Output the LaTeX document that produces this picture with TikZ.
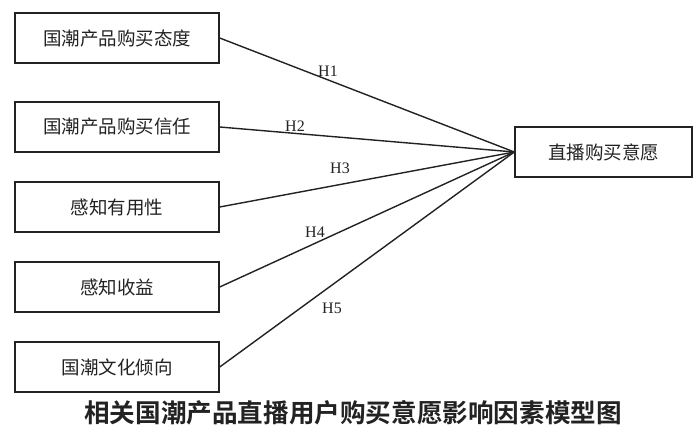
\documentclass[tikz,border=0pt]{standalone}
\usepackage{fontspec}
\setmainfont{Liberation Serif}
\newfontfamily\cjk{Noto Sans CJK SC}
\newfontfamily\cjkb{Noto Sans CJK SC Bold}
\definecolor{ink}{HTML}{222222}
\begin{document}
\begin{tikzpicture}[x=1pt,y=-1pt,
  box/.style={draw=ink,line width=1.4pt,minimum width=204pt,minimum height=50pt,inner sep=0pt,font=\cjk\fontsize{18.5}{22}\selectfont,text=ink},
  link/.style={draw=ink,line width=1.4pt},
  hlab/.style={font=\fontsize{16}{18}\selectfont,text=ink,inner sep=0pt}]
\useasboundingbox (0,0) rectangle (700,435);
\node[box] (a) at (117,38) {国潮产品购买态度};
\node[box] (b) at (117,127) {国潮产品购买信任};
\node[box] (c) at (117,207) {感知有用性};
\node[box] (d) at (117,287) {感知收益};
\node[box] (e) at (117,367) {国潮文化倾向};
\node[box,minimum width=177pt] (t) at (603.5,152) {直播购买意愿};
\draw[link] (a.east) -- (t.west);
\draw[link] (b.east) -- (t.west);
\draw[link] (c.east) -- (t.west);
\draw[link] (d.east) -- (t.west);
\draw[link] (e.east) -- (t.west);
\node[hlab] (h1) at (328,71) {H1};
\node[hlab] (h2) at (295,126) {H2};
\node[hlab] (h3) at (340,168) {H3};
\node[hlab] (h4) at (315,232) {H4};
\node[hlab] (h5) at (332,308) {H5};
\node[font=\cjkb\fontsize{25.6}{30}\selectfont,text=ink,inner sep=0pt] (cap) at (353,413) {相关国潮产品直播用户购买意愿影响因素模型图};
\end{tikzpicture}
\end{document}
